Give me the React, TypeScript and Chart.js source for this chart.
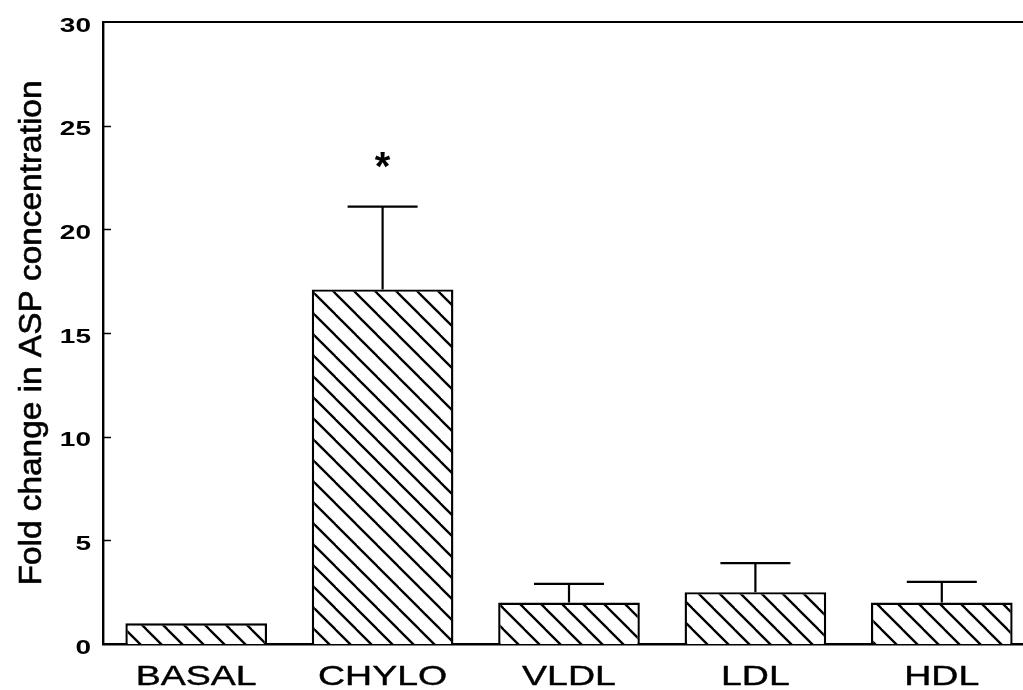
import React, { useEffect, useRef } from "react";
import { Chart, registerables } from "chart.js";

Chart.register(...registerables);

const categories = ["BASAL", "CHYLO", "VLDL", "LDL", "HDL"];
const meanValues = [1.0, 17.1, 2.0, 2.5, 2.0];
const errorValues = [0, 4.0, 0.9, 1.4, 1.0];
const significance = ["", "*", "", "", ""];
const yMin = 0;
const yMax = 30;
const yStep = 5;
const yAxisTitle = "Fold change in ASP concentration";

const FONT = '"Liberation Sans", Arial, Helvetica, sans-serif';

function makeHatch(): CanvasPattern | string {
  const s = 21;
  const c = document.createElement("canvas");
  c.width = s;
  c.height = s;
  const g = c.getContext("2d");
  if (!g) return "#fff";
  g.fillStyle = "#fff";
  g.fillRect(0, 0, s, s);
  g.strokeStyle = "#000";
  g.lineWidth = 2.3;
  g.lineCap = "square";
  for (const off of [-s, 0, s]) {
    g.beginPath();
    g.moveTo(off - 2, -2);
    g.lineTo(off + s + 2, s + 2);
    g.stroke();
  }
  const p = g.createPattern(c, "repeat");
  return p || "#fff";
}

function heavyText(ctx: CanvasRenderingContext2D, text: string, x: number, y: number, w: number) {
  ctx.fillText(text, x, y);
  ctx.lineWidth = w;
  ctx.strokeStyle = "#000";
  ctx.lineJoin = "round";
  ctx.strokeText(text, x, y);
}

const decorPlugin = {
  id: "decor",
  beforeDraw(chart: any) {
    const xs = chart.scales.x;
    const ys = chart.scales.y;
    if (!xs._customLabels) {
      xs._customLabels = true;
      xs.drawLabels = function () {
        const ctx = this.ctx;
        ctx.save();
        ctx.fillStyle = "#000";
        ctx.font = `28px ${FONT}`;
        ctx.textAlign = "center";
        ctx.textBaseline = "alphabetic";
        this.ticks.forEach((t: any, i: number) => {
          const x = this.getPixelForTick(i);
          const label = this.getLabelForValue(t.value);
          ctx.save();
          ctx.translate(x, this.top + 41);
          ctx.scale(1.34, 1);
          heavyText(ctx, String(label), 0, 0, 0.4);
          ctx.restore();
        });
        ctx.restore();
      };
    }
    if (!ys._customLabels) {
      ys._customLabels = true;
      ys.drawLabels = function () {
        const ctx = this.ctx;
        ctx.save();
        ctx.fillStyle = "#000";
        ctx.font = `bold 20px ${FONT}`;
        ctx.textAlign = "right";
        ctx.textBaseline = "middle";
        this.ticks.forEach((t: any) => {
          const y = this.getPixelForValue(t.value);
          ctx.save();
          ctx.translate(this.right - 12, y + 4);
          ctx.scale(1.4, 1);
          ctx.fillText(String(t.label), 0, 0);
          ctx.restore();
        });
        ctx.restore();
      };
      ys.drawTitle = function () {
        const ctx = this.ctx;
        const text = this.options.title.text;
        const area = this.chart.chartArea;
        ctx.save();
        ctx.fillStyle = "#000";
        ctx.font = `31px ${FONT}`;
        ctx.textAlign = "center";
        ctx.textBaseline = "alphabetic";
        const w = ctx.measureText(text).width;
        const target = 505;
        const cy = (area.top + area.bottom) / 2;
        ctx.translate(41, cy);
        ctx.rotate(-Math.PI / 2);
        ctx.scale(target / w, 1);
        heavyText(ctx, text, 0, 0, 0.6);
        ctx.restore();
      };
    }
  },
  afterDatasetsDraw(chart: any) {
    const ctx = chart.ctx;
    const ys = chart.scales.y;
    const area = chart.chartArea;
    const meta = chart.getDatasetMeta(0);
    ctx.save();
    ctx.strokeStyle = "#000";
    ctx.fillStyle = "#000";
    // top frame line
    ctx.lineWidth = 2;
    ctx.beginPath();
    ctx.moveTo(area.left, area.top);
    ctx.lineTo(area.right, area.top);
    ctx.stroke();
    // inner ticks on y axis
    ctx.lineWidth = 1.5;
    ys.ticks.forEach((t: any) => {
      if (t.value === yMin || t.value === yMax) return;
      const y = Math.round(ys.getPixelForValue(t.value)) + 0.5;
      ctx.beginPath();
      ctx.moveTo(area.left, y);
      ctx.lineTo(area.left + 8, y);
      ctx.stroke();
    });
    // error bars
    ctx.lineWidth = 2.2;
    const capHalf = 35;
    meta.data.forEach((bar: any, i: number) => {
      const err = errorValues[i];
      if (err > 0) {
        const x = bar.x;
        const yTop = ys.getPixelForValue(meanValues[i] + err);
        const yBase = ys.getPixelForValue(meanValues[i]);
        ctx.beginPath();
        ctx.moveTo(x, yBase);
        ctx.lineTo(x, yTop);
        ctx.moveTo(x - capHalf, yTop);
        ctx.lineTo(x + capHalf, yTop);
        ctx.stroke();
      }
      const mark = significance[i];
      if (mark) {
        ctx.font = `bold 40px ${FONT}`;
        ctx.textAlign = "center";
        ctx.textBaseline = "alphabetic";
        const m = ctx.measureText(mark);
        const cyStar = ys.getPixelForValue(meanValues[i] + err + 2.25);
        const baseline =
          cyStar + (m.actualBoundingBoxAscent - m.actualBoundingBoxDescent) / 2;
        ctx.fillText(mark, bar.x, baseline);
      }
    });
    ctx.restore();
  },
};

export default function App() {
  const ref = useRef<HTMLCanvasElement | null>(null);

  useEffect(() => {
    document.body.style.margin = "0";
    document.body.style.overflow = "hidden";
    const canvas = ref.current;
    if (!canvas) return;
    const hatch = makeHatch();
    const chart = new Chart(canvas, {
      type: "bar",
      data: {
        labels: categories,
        datasets: [
          {
            data: meanValues,
            backgroundColor: hatch as any,
            borderColor: "#000",
            borderWidth: 2.4,
            barPercentage: 0.76,
            categoryPercentage: 1,
          },
        ],
      },
      options: {
        responsive: false,
        devicePixelRatio: 1,
        animation: false,
        events: [],
        layout: { padding: { top: 22, right: 5, left: 0, bottom: 0 } },
        plugins: {
          legend: { display: false },
          tooltip: { enabled: false },
          title: { display: false },
        },
        scales: {
          x: {
            offset: true,
            grid: { display: false },
            border: { display: true, color: "#000", width: 2.4 },
            ticks: { color: "#000", font: { size: 28, family: FONT } },
            afterFit: (s: any) => {
              s.height = 46;
            },
          },
          y: {
            min: yMin,
            max: yMax,
            grid: { display: false },
            border: { display: true, color: "#000", width: 2.4 },
            ticks: {
              stepSize: yStep,
              color: "#000",
              font: { size: 20, family: FONT, weight: "bold" },
            },
            title: {
              display: true,
              text: yAxisTitle,
              color: "#000",
              font: { size: 31, family: FONT },
            },
            afterFit: (s: any) => {
              s.width = 103;
            },
          },
        },
      },
      plugins: [decorPlugin],
    });
    return () => {
      chart.destroy();
    };
  }, []);

  return (
    <div
      style={{
        width: 1023,
        height: 690,
        overflow: "hidden",
        position: "relative",
        background: "#fff",
      }}
    >
      <canvas
        ref={ref}
        width={1040}
        height={690}
        style={{ width: "1040px", height: "690px", display: "block" }}
      />
    </div>
  );
}
